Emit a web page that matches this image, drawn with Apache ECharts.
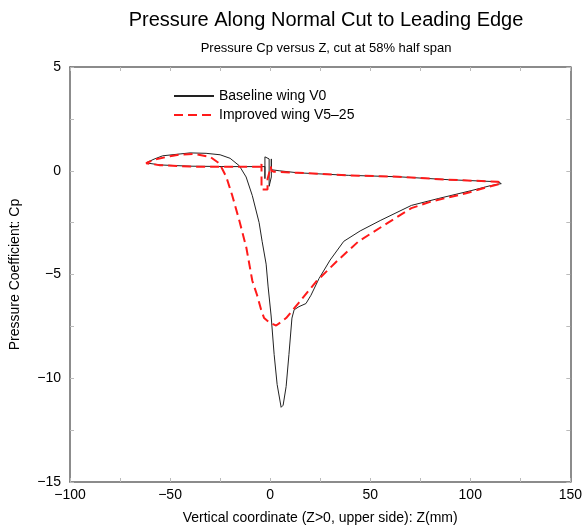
<!DOCTYPE html>
<html>
<head>
<meta charset="utf-8">
<script src="https://cdn.jsdelivr.net/npm/echarts@6/dist/echarts.min.js"></script>
<style>html,body{margin:0;padding:0;background:#fff;}#c{width:585px;height:530px;}</style>
</head>
<body>
<div id="c"></div>
<script>
var titleText = 'Pressure Along Normal Cut to Leading Edge';
var subtitleText = 'Pressure Cp versus Z, cut at 58% half span';
var xAxisName = 'Vertical coordinate (Z>0, upper side): Z(mm)';
var yAxisName = 'Pressure Coefficient: Cp';
var seriesNames = ['Baseline wing V0', 'Improved wing V5\u201325'];

var baselineZ = [-2.6,-20,-40,-55,-62,-58,-53.7,-45,-40,-32,-25,-20,-15.4,-12,-8.9,-5.5,-4,-2,-1,0.5,2,3.5,5.5,6.5,8,9.4,10.9,12,14.4,17.9,20.4,24.4,30,36.8,45,55,70.6,84,100.4,110,115.5,113.8,89,64,39,14,4.5,0.6,0.6,0.6,-0.5,-0.5,-2.6,-2.6,-2.6];
var baselineCp = [0.2,0.2,0.22,0.28,0.38,0.56,0.72,0.81,0.86,0.84,0.77,0.6,0.24,-0.3,-1.2,-2.5,-3.4,-4.5,-5.6,-7.0,-8.85,-10.3,-11.4,-11.3,-10.4,-8.85,-7.1,-6.7,-6.55,-6.4,-6.0,-5.2,-4.3,-3.4,-2.9,-2.4,-1.67,-1.34,-0.96,-0.72,-0.62,-0.53,-0.43,-0.29,-0.22,-0.1,0.0,0.05,0.57,-0.3,-0.75,0.57,0.67,-0.38,0.2];

var improvedZ = [-4.5,-20,-40,-55,-62,-58,-50,-45,-38,-30,-25.3,-21.9,-18.9,-15.4,-11.9,-8.9,-6.5,-4.5,-3,-0.5,3,6,8,14.4,22.9,34,44.2,59,70.6,80.5,97.4,108,115.5,113.8,89,64,39,14,2,0.6,0.4,-1.3,-1.3,-4.3,-4.3,-4.5];
var improvedCp = [0.19,0.19,0.2,0.27,0.36,0.53,0.7,0.78,0.81,0.67,0.35,-0.3,-1.2,-2.4,-3.7,-5.3,-6.0,-6.7,-7.1,-7.3,-7.46,-7.25,-7.1,-6.35,-5.35,-4.3,-3.4,-2.5,-1.8,-1.48,-1.1,-0.8,-0.62,-0.53,-0.43,-0.29,-0.22,-0.1,-0.05,0.0,0.2,-0.4,-0.9,-0.9,0.33,0.19];

function pairs(xs, ys){ var out=[]; for(var i=0;i<xs.length;i++){ out.push([xs[i], ys[i]]); } return out; }
function fmt(v){ return String(v).replace('-', '\u2212'); }

var font = '"Liberation Sans", Arial, Helvetica, sans-serif';
var chart = echarts.init(document.getElementById('c'), null, {renderer:'canvas'});

function makeAxis(pos, isX, show){
  var a = {
    type:'value', position:pos,
    min: isX ? -100 : -15, max: isX ? 150 : 5, interval: isX ? 50 : 5,
    axisLine:{show:true, onZero:false, lineStyle:{color:'#666', width:1.5}},
    axisTick:{show:true, inside:true, length:4, lineStyle:{color:'#bbb', width:1}},
    minorTick:{show:true, splitNumber:2, length:4, lineStyle:{color:'#bbb', width:1}},
    splitLine:{show:false},
    axisLabel:{show:show, color:'#000', fontSize:14, fontFamily:font, formatter:fmt, margin: isX ? 6 : 9}
  };
  return a;
}

var xMain = makeAxis('bottom', true, true);
xMain.name = xAxisName; xMain.nameLocation='middle'; xMain.nameGap=29;
xMain.nameTextStyle = {color:'#000', fontSize:14, fontFamily:font};
var yMain = makeAxis('left', false, true);
yMain.name = yAxisName; yMain.nameLocation='middle'; yMain.nameGap=48;
yMain.nameTextStyle = {color:'#000', fontSize:14, fontFamily:font};

var option = {
  animation:false,
  backgroundColor:'#fff',
  title:[
    {text:titleText, left:321, top:5, textAlign:'center', textStyle:{color:'#000', fontSize:20, fontWeight:'normal', fontFamily:font}},
    {text:subtitleText, left:321, top:37, textAlign:'center', textStyle:{color:'#000', fontSize:13, fontWeight:'normal', fontFamily:font}}
  ],
  grid:{left:70, right:12, top:67, bottom:45, containLabel:false},
  legend:{
    show:true,
    orient:'vertical', left:168, top:84, itemWidth:40, itemHeight:12, itemGap:5,
    itemStyle:{opacity:0},
    textStyle:{color:'#000', fontSize:14, fontFamily:font},
    data:[seriesNames[0], seriesNames[1]]
  },
  xAxis:[xMain, makeAxis('top', true, false)],
  yAxis:[yMain, makeAxis('right', false, false)],
  series:[
    {name:seriesNames[0], type:'line', xAxisIndex:0, yAxisIndex:0, data:pairs(baselineZ, baselineCp),
     symbol:'none', smooth:false, lineStyle:{color:'#222', width:1}, itemStyle:{color:'#222'}},
    {name:seriesNames[1], type:'line', xAxisIndex:0, yAxisIndex:0, data:pairs(improvedZ, improvedCp),
     symbol:'none', smooth:false, lineStyle:{color:'#ff1a1a', width:2, type:[9,5]}, itemStyle:{color:'#ff1a1a'}}
  ]
};
chart.setOption(option);
</script>
</body>
</html>
